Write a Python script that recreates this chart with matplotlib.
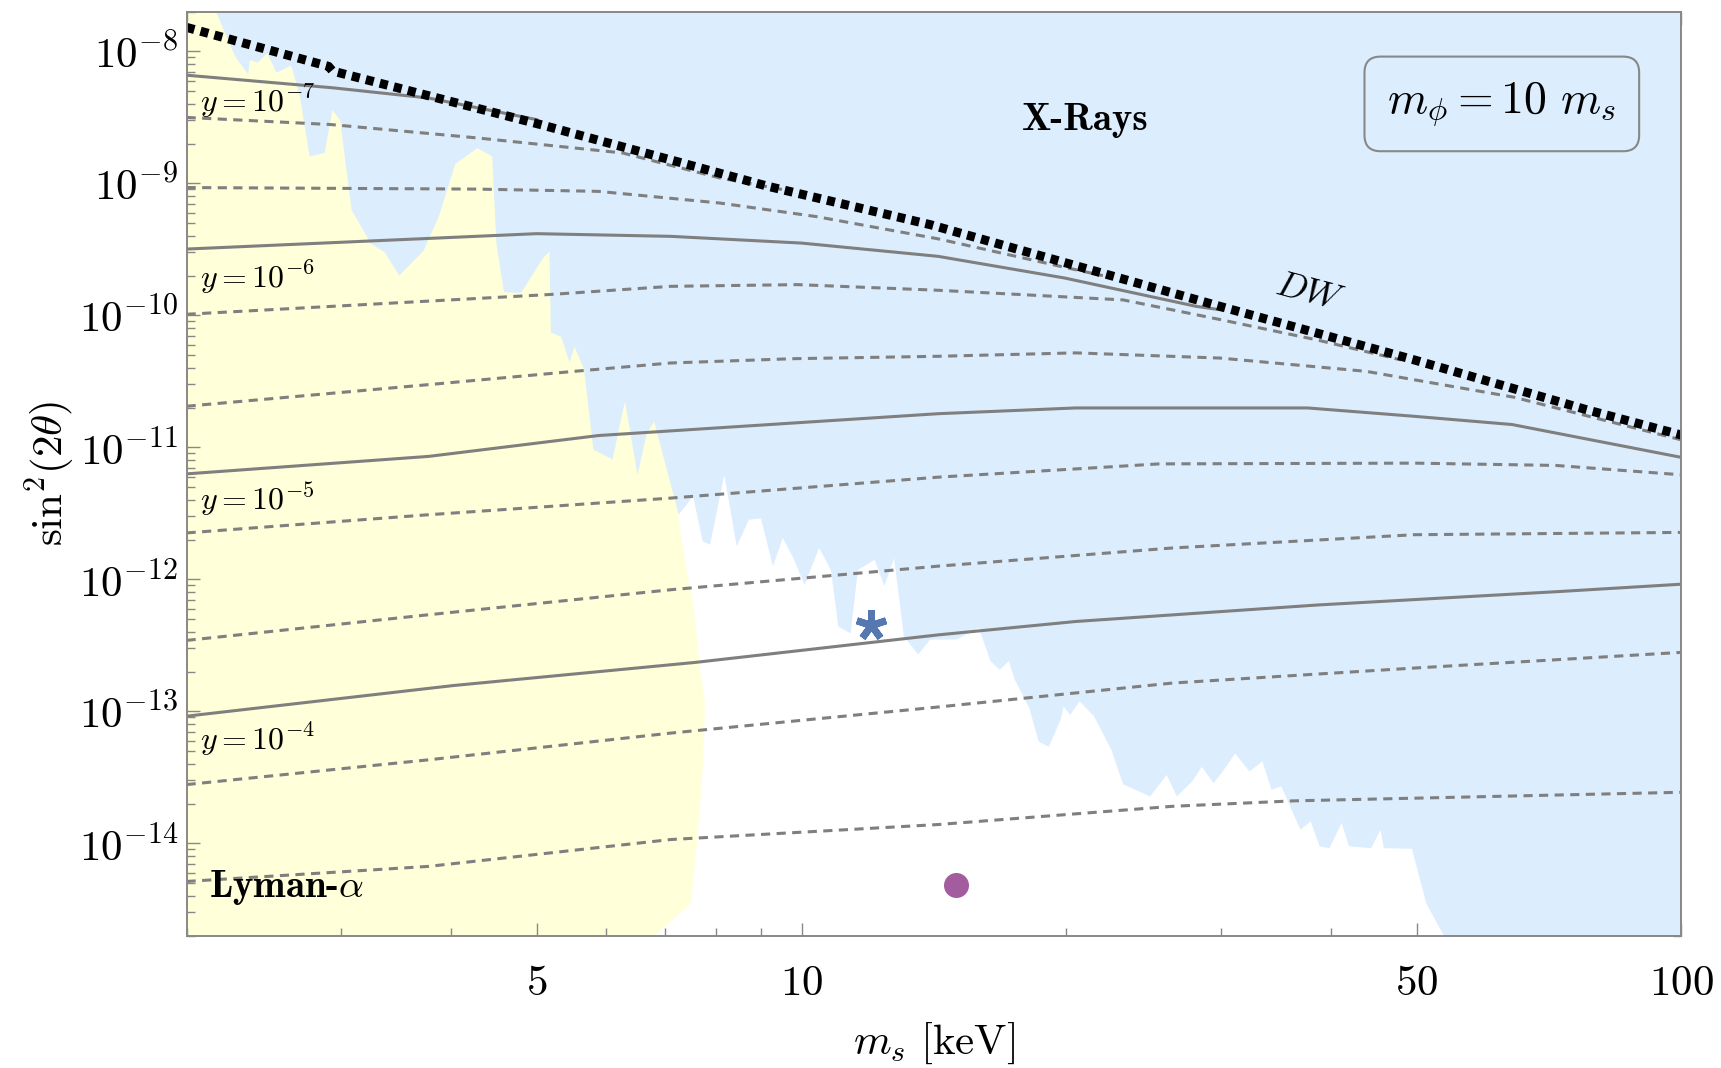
import numpy as np
import matplotlib
matplotlib.use("Agg")
from matplotlib import pyplot as plt
from matplotlib.ticker import LogLocator, NullFormatter

plt.rcParams['mathtext.fontset'] = 'cm'
plt.rcParams['axes.unicode_minus'] = False

# ---- values ----
xlim = (2.0, 100.0)
ylim = (2.0e-15, 2.0e-8)

# lower edge of the X-ray exclusion (blue), left to right
xray_m = [2.16, 2.27, 2.35, 2.36, 2.41, 2.47, 2.53, 2.63, 2.69, 2.76, 2.87, 2.93, 2.99,
          3.08, 3.24, 3.36, 3.49, 3.72, 3.87, 4.04, 4.28, 4.45, 4.50, 4.59, 4.80, 5.08,
          5.17, 5.19, 5.33, 5.45, 5.52, 5.66, 5.80, 6.10, 6.22, 6.30, 6.38, 6.51, 6.67,
          6.80, 7.25, 7.53, 7.72, 7.87, 8.17, 8.44, 8.71, 8.99, 9.28, 9.52, 9.77, 10.08,
          10.47, 10.80, 11.01, 11.37, 11.59, 12.11, 12.42, 12.74, 13.07, 13.57, 14.0, 15.0,
          15.9, 16.4, 16.8, 17.2, 17.47, 18.15, 18.6, 19.1, 19.7, 19.85, 20.2, 20.7, 21.5,
          22.5, 23.2, 24.9, 26.0, 26.7, 27.8, 28.5, 29.4, 30.1, 31.1, 32.3, 33.4, 34.2,
          35.1, 36.9, 37.9, 38.8, 39.8, 41.1, 41.9, 44.4, 45.5, 45.9, 49.4, 51.3, 53.7]
xray_s = [2.0e-8, 9.2e-9, 6.7e-9, 8.6e-9, 8.2e-9, 9.7e-9, 6.9e-9, 7.8e-9, 4.6e-9, 1.6e-9,
          1.7e-9, 3.6e-9, 3.0e-9, 6.3e-10, 3.5e-10, 3.0e-10, 2.0e-10, 3.1e-10, 5.6e-10,
          1.4e-9, 1.85e-9, 1.6e-9, 3.5e-10, 1.5e-10, 1.48e-10, 2.7e-10, 3.05e-10, 7.4e-11,
          6.9e-11, 4.4e-11, 5.8e-11, 3.9e-11, 9.6e-12, 8.1e-12, 1.53e-11, 2.23e-11, 1.36e-11,
          6.2e-12, 1.28e-11, 1.57e-11, 3.1e-12, 4.25e-12, 1.94e-12, 1.83e-12, 6.2e-12,
          1.78e-12, 2.83e-12, 2.9e-12, 1.26e-12, 2.06e-12, 1.49e-12, 9.1e-13, 1.73e-12,
          1.18e-12, 4.4e-13, 3.9e-13, 1.18e-12, 1.41e-12, 8.9e-13, 1.45e-12, 3.7e-13,
          2.7e-13, 3.5e-13, 3.5e-13, 4.3e-13, 2.4e-13, 2.07e-13, 2.4e-13, 1.74e-13, 1.06e-13,
          5.9e-14, 5.4e-14, 8.65e-14, 1.09e-13, 9.4e-14, 1.19e-13, 9.2e-14, 5.1e-14, 2.8e-14,
          2.27e-14, 3.3e-14, 2.27e-14, 2.95e-14, 3.8e-14, 2.86e-14, 3.5e-14, 4.8e-14, 3.5e-14,
          4.2e-14, 2.55e-14, 2.7e-14, 1.27e-14, 1.47e-14, 9.5e-15, 9.2e-15, 1.43e-14, 9.5e-15,
          9.2e-15, 1.27e-14, 9.2e-15, 9.1e-15, 3.5e-15, 2.0e-15]

# right edge of the Lyman-alpha region (yellow), bottom to top
lyman_m = [6.80, 7.01, 7.48, 7.62, 7.72, 7.77, 7.67, 7.53, 7.40, 7.25, 7.25]
lyman_s = [2.0e-15, 2.36e-15, 3.5e-15, 1.13e-14, 3.6e-14, 1.16e-13, 2.07e-13, 6.6e-13,
           1.18e-12, 2.83e-12, 2.0e-8]

# DW line
dw_m = [2.0, 2.9, 2.93, 5.05, 9.16, 14.0, 29.9, 49.7, 78.0, 100.0]
dw_s = [1.52e-8, 7.7e-9, 7.1e-9, 2.79e-9, 9.5e-10, 4.87e-10, 1.17e-10, 4.6e-11, 1.93e-11, 1.24e-11]

# solid contours y = 1e-7 ... 1e-4
y7_m = [2.0, 2.93, 3.77, 5.0]
y7_s = [6.6e-9, 5.3e-9, 4.43e-9, 3.04e-9]
y6_m = [2.0, 5.0, 7.1, 10.0, 14.3, 19.9, 28.1, 30.0]
y6_s = [3.18e-10, 4.16e-10, 3.97e-10, 3.53e-10, 2.8e-10, 1.92e-10, 1.17e-10, 1.1e-10]
y5_m = [2.0, 3.77, 5.88, 14.3, 20.5, 37.6, 49.7, 64.2, 100.0]
y5_s = [6.3e-12, 8.55e-12, 1.23e-11, 1.8e-11, 1.99e-11, 1.99e-11, 1.72e-11, 1.49e-11, 8.4e-12]
y4_m = [2.0, 4.02, 7.57, 14.3, 20.5, 38.6, 72.8, 100.0]
y4_s = [9.2e-14, 1.57e-13, 2.35e-13, 3.8e-13, 4.8e-13, 6.4e-13, 8.1e-13, 9.2e-13]

# dashed contours (intermediate y), top to bottom
da_m = [2.0, 2.92, 4.28, 6.26, 8.07, 9.5]
da_s = [3.16e-9, 2.79e-9, 2.21e-9, 1.7e-9, 1.1e-9, 9.0e-10]
db_m = [2.0, 4.28, 5.88, 8.07, 10.4, 14.3, 19.7, 22.0]
db_s = [9.3e-10, 9.05e-10, 8.7e-10, 7.1e-10, 5.6e-10, 3.8e-10, 2.35e-10, 2.0e-10]
dc_m = [2.0, 5.18, 7.1, 9.9, 14.3, 23.2, 29.9, 38.6, 48.0]
dc_s = [1.02e-10, 1.44e-10, 1.66e-10, 1.71e-10, 1.55e-10, 1.31e-10, 9.3e-11, 6.5e-11, 4.6e-11]
dd_m = [2.0, 3.77, 5.52, 7.1, 9.8, 14.3, 20.5, 29.9, 43.8, 64.5, 100.0]
dd_s = [2.05e-11, 2.99e-11, 3.77e-11, 4.36e-11, 4.7e-11, 4.9e-11, 5.2e-11, 4.75e-11, 3.77e-11, 2.4e-11, 1.14e-11]
de_m = [2.0, 3.77, 7.1, 14.3, 25.5, 49.7, 72.0, 100.0]
de_s = [2.25e-12, 3.09e-12, 4.13e-12, 5.95e-12, 7.5e-12, 7.6e-12, 7.3e-12, 6.2e-12]
df_m = [2.0, 3.77, 7.1, 14.3, 26.4, 49.7, 100.0]
df_s = [3.45e-13, 5.4e-13, 8.35e-13, 1.26e-12, 1.73e-12, 2.18e-12, 2.27e-12]
dg_m = [2.0, 3.77, 7.1, 14.3, 26.4, 49.7, 100.0]
dg_s = [2.79e-14, 4.3e-14, 6.85e-14, 1.08e-13, 1.64e-13, 2.13e-13, 2.8e-13]
dh_m = [2.0, 3.77, 7.1, 14.3, 26.4, 36.2, 100.0]
dh_s = [5.15e-15, 6.7e-15, 1.07e-14, 1.39e-14, 1.91e-14, 2.1e-14, 2.44e-14]

# benchmark points
star_m, star_s = [12.0], [4.5e-13]
dot_m, dot_s = [15.0], [4.8e-15]

xtick_vals = [5, 10, 50, 100]
xtick_labels = [r'$5$', r'$10$', r'$50$', r'$100$']
ytick_vals = [1e-14, 1e-13, 1e-12, 1e-11, 1e-10, 1e-9, 1e-8]
ytick_labels = [r'$10^{-14}$', r'$10^{-13}$', r'$10^{-12}$', r'$10^{-11}$',
                r'$10^{-10}$', r'$10^{-9}$', r'$10^{-8}$']

y_labels = [r'$y=10^{-7}$', r'$y=10^{-6}$', r'$y=10^{-5}$', r'$y=10^{-4}$']
y_label_s = [4.2e-9, 1.93e-10, 4.0e-12, 6.2e-14]

gray = '#7f7f7f'
blue = '#dcedfe'
yellow = '#ffffd9'

fig = plt.figure(figsize=(17.21, 10.68), dpi=100)
ax = fig.add_axes([0.1084, 0.1239, 0.8686, 0.8652])
ax.set_xscale('log')
ax.set_yscale('log')
ax.set_xlim(*xlim)
ax.set_ylim(*ylim)

# regions
ax.fill([xlim[0]] + lyman_m + [xlim[0]], [ylim[0]] + lyman_s + [ylim[1]],
        color=yellow, lw=0, zorder=1)
ax.fill(xray_m + [xlim[1], xlim[1]], xray_s + [ylim[0], ylim[1]],
        color=blue, lw=0, zorder=2)

for m, s in [(y7_m, y7_s), (y6_m, y6_s), (y5_m, y5_s), (y4_m, y4_s)]:
    ax.plot(m, s, color=gray, lw=2.2, zorder=3)
for m, s in [(da_m, da_s), (db_m, db_s), (dc_m, dc_s), (dd_m, dd_s),
             (de_m, de_s), (df_m, df_s), (dg_m, dg_s), (dh_m, dh_s)]:
    ax.plot(m, s, color=gray, lw=2.2, ls=(0, (3.0, 2.1)), zorder=3)

ax.plot(dw_m, dw_s, color='black', lw=6.5, ls=(0, (0.9, 0.7)),
        dash_capstyle='butt', zorder=4)

ax.plot(star_m, star_s, ls='none', marker=(5, 2, 0), ms=22, mew=5,
        color='#5578b0', zorder=5)
ax.plot(dot_m, dot_s, ls='none', marker='o', ms=18, color='#a35d9f',
        mec='none', zorder=5)

# labels
for lab, s in zip(y_labels, y_label_s):
    ax.text(2.07, s, lab, fontsize=23, ha='left', va='center', zorder=6)
ax.text(21.0, 3.0e-9, 'X-Rays', family='cmb10', fontsize=28,
        ha='center', va='center', zorder=6)
ax.text(2.12, 4.6e-15, r'Lyman-$\alpha$', family='cmb10', fontsize=28,
        ha='left', va='center', zorder=6)
ax.text(37.8, 1.5e-10, r'$DW$', fontsize=26, rotation=-15,
        ha='center', va='center', zorder=6)
ax.text(62.5, 4.0e-9, r'$m_\phi = 10\ m_s$', fontsize=33, ha='center', va='center',
        zorder=6, bbox=dict(boxstyle='round,pad=0.5,rounding_size=0.35',
                            fc='none', ec='#888888', lw=1.5))

# axes cosmetics
ax.set_xticks(xtick_vals)
ax.set_xticklabels(xtick_labels)
ax.xaxis.set_minor_locator(LogLocator(base=10, subs=np.arange(2, 10), numticks=50))
ax.xaxis.set_minor_formatter(NullFormatter())
ax.set_yticks(ytick_vals)
ax.set_yticklabels(ytick_labels)
ax.yaxis.set_minor_locator(LogLocator(base=10, subs=np.arange(2, 10), numticks=50))
ax.yaxis.set_minor_formatter(NullFormatter())

ax.tick_params(which='both', direction='in', top=True, right=True,
               color='#888888', width=1.0, labelsize=31)
ax.tick_params(which='major', length=9.5)
ax.tick_params(which='minor', length=6)
ax.tick_params(axis='x', which='major', pad=19)
ax.tick_params(axis='y', which='major', pad=6)
for sp in ax.spines.values():
    sp.set_color('#888888')
    sp.set_linewidth(1.4)
    sp.set_zorder(7)

ax.set_xlabel(r'$m_s\ [\mathrm{keV}]$', fontsize=31, va='center')
ax.xaxis.set_label_coords(0.5, -0.116)
ax.set_ylabel(r'$\mathrm{sin}^2(2\theta)$', fontsize=31, va='center')
ax.yaxis.set_label_coords(-0.0914, 0.5)

fig.savefig('out.png', dpi=100)
